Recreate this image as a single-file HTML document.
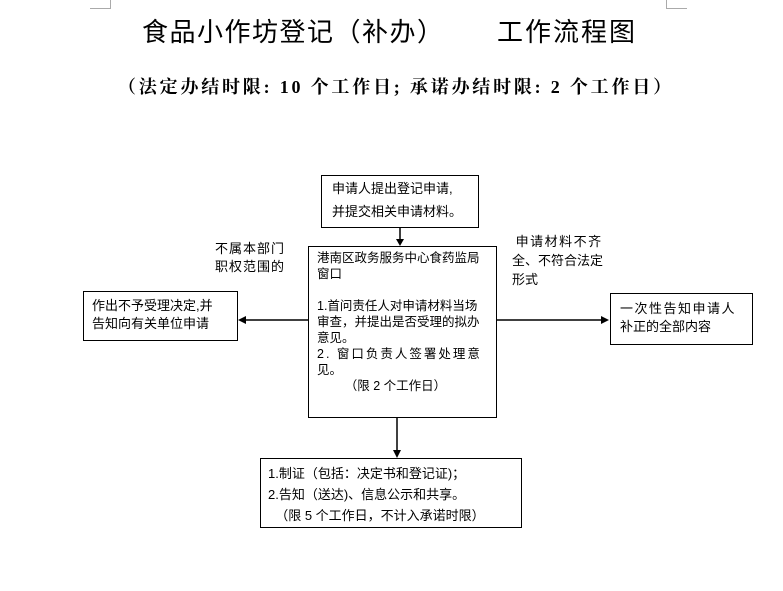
<!DOCTYPE html>
<html><head><meta charset="utf-8"><style>
body{margin:0;width:783px;height:591px;background:#fff;position:relative;overflow:hidden;font-family:"Liberation Sans","Noto Sans CJK SC",sans-serif;color:#000}
.a{position:absolute;white-space:nowrap}
.b{position:absolute;border:1px solid #000;box-sizing:border-box;background:#fff}
.t{font-size:13px;line-height:18px}
</style></head><body>
<div class="a" style="left:90px;top:0;width:20px;height:8px;border-right:1px solid #aaa;border-bottom:1px solid #aaa"></div>
<div class="a" style="left:666px;top:0;width:20px;height:8px;border-left:1px solid #aaa;border-bottom:1px solid #aaa"></div>
<div class="a" style="left:142px;top:15px;font-size:26px;line-height:34px;letter-spacing:1.5px">食品小作坊登记（补办）</div>
<div class="a" style="left:497px;top:15px;font-size:26px;line-height:34px;letter-spacing:2px">工作流程图</div>
<div class="a" style="left:118px;top:76px;font-size:18px;font-weight:bold;font-family:'Liberation Serif','Noto Serif CJK SC',serif;line-height:22px;letter-spacing:2.8px">（法定办结时限: 10 个工作日; 承诺办结时限: 2 个工作日）</div>

<div class="b" style="left:321px;top:175px;width:158px;height:53px"></div>
<div class="a t" style="left:332px;top:180px">申请人提出登记申请,</div>
<div class="a t" style="left:332px;top:203px">并提交相关申请材料。</div>

<div class="b" style="left:308px;top:246px;width:189px;height:172px"></div>
<div class="a t" style="left:317px;top:250px;font-size:12.5px;line-height:16px">港南区政务服务中心食药监局<br>窗口<br><br>1.首问责任人对申请材料当场<br>审查，并提出是否受理的拟办<br>意见。<br><span style="letter-spacing:2px">2. 窗口负责人签署处理意</span><br>见。<br>&nbsp;&nbsp;&nbsp;&nbsp;&nbsp;&nbsp;&nbsp;&nbsp;（限 2 个工作日）</div>

<div class="b" style="left:83px;top:291px;width:155px;height:50px"></div>
<div class="a t" style="left:92px;top:297px">作出不予受理决定,并<br>告知向有关单位申请</div>
<div class="a t" style="left:215px;top:240px;letter-spacing:1px">不属本部门<br>职权范围的</div>

<div class="b" style="left:610px;top:293px;width:143px;height:52px"></div>
<div class="a t" style="left:620px;top:300px"><span style="letter-spacing:1.5px">一次性告知申请人</span><br>补正的全部内容</div>
<div class="a t" style="left:512px;top:232px;line-height:19px">&nbsp;<span style="letter-spacing:1.5px">申请材料不齐</span><br>全、不符合法定<br>形式</div>

<div class="b" style="left:260px;top:458px;width:262px;height:70px"></div>
<div class="a t" style="left:268px;top:463px;line-height:21px">1.制证（包括：决定书和登记证)；<br>2.告知（送达)、信息公示和共享。<br>&nbsp;&nbsp;（限 5 个工作日，不计入承诺时限）</div>

<svg class="a" style="left:0;top:0" width="783" height="591">
<g stroke="#000" stroke-width="1.5" fill="#000">
<line x1="400" y1="228" x2="400" y2="240"/><polygon points="396,239 404,239 400,246" stroke="none"/>
<line x1="308" y1="320" x2="245" y2="320"/><polygon points="246,316 246,324 238,320" stroke="none"/>
<line x1="497" y1="320" x2="602" y2="320"/><polygon points="601,316 601,324 609,320" stroke="none"/>
<line x1="397" y1="418" x2="397" y2="451"/><polygon points="393,450 401,450 397,458" stroke="none"/>
</g></svg>
</body></html>
